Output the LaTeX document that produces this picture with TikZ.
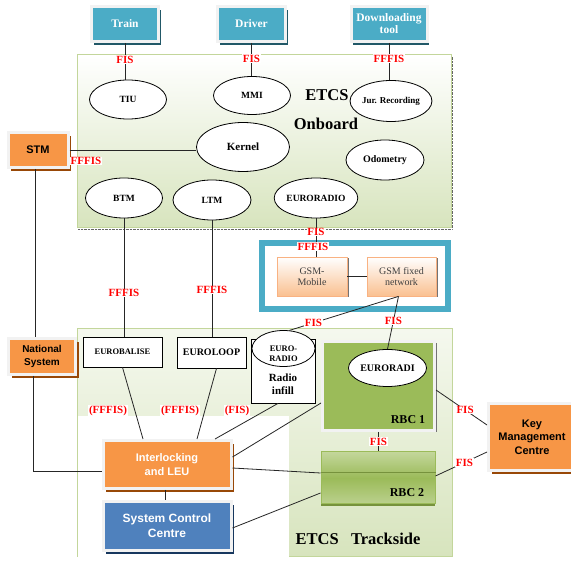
\documentclass[tikz,border=0pt]{standalone}
\usepackage{fontspec}
\setmainfont{Liberation Serif}
\setsansfont{Liberation Sans}
\usetikzlibrary{shapes.geometric,shadows}
\definecolor{tealc}{HTML}{4BACC6}
\definecolor{tealdark}{HTML}{215867}
\definecolor{framegray}{HTML}{F2F2F2}
\definecolor{orangec}{HTML}{F79646}
\definecolor{orangedark}{HTML}{984807}
\definecolor{bluec}{HTML}{4F81BD}
\definecolor{bluedark}{HTML}{17375E}
\definecolor{greenc}{HTML}{9BBB59}
\definecolor{greenlight}{HTML}{D7E4BD}
\definecolor{greenline}{HTML}{C3D69B}
\definecolor{greendark}{HTML}{76923C}
\definecolor{peach}{HTML}{FAC090}
\definecolor{peachline}{HTML}{F9B282}
\definecolor{gsmtext}{HTML}{404040}

\begin{document}
\begin{tikzpicture}[x=1pt,y=-1pt,
			unit/.style={draw, ellipse, fill=white, line width=0.8pt, inner sep=0pt, align=center, font=\bfseries\fontsize{9.5}{10}\selectfont},
			tealbox/.style={draw=framegray, fill=tealc, line width=3pt, inner sep=0pt, align=center, text=white, font=\bfseries\fontsize{11.5}{12}\selectfont, drop shadow={shadow xshift=2pt, shadow yshift=-4pt, fill=tealdark, opacity=1}},
			orangebox/.style={draw=framegray, fill=orangec, line width=3pt, inner sep=0pt, align=center, font=\sffamily\bfseries\fontsize{11}{13.5}\selectfont, drop shadow={shadow xshift=3pt, shadow yshift=-4pt, fill=orangedark, opacity=1}},
			bluebox/.style={draw=framegray, fill=bluec, line width=3pt, inner sep=0pt, align=center, text=white, font=\sffamily\bfseries\fontsize{12}{15}\selectfont, drop shadow={shadow xshift=3pt, shadow yshift=-4pt, fill=bluedark, opacity=1}},
			plainbox/.style={draw, fill=white, line width=0.8pt, inner sep=0pt, align=center, font=\bfseries\fontsize{10}{10}\selectfont},
			peachbox/.style={draw=peachline, top color=white, bottom color=peach, line width=0.8pt, inner sep=0pt, align=center, text=gsmtext, font=\fontsize{10}{11}\selectfont, drop shadow={shadow xshift=1.5pt, shadow yshift=-1.5pt, fill=black!55, opacity=1}},
			rbcone/.style={draw=framegray, fill=greenc, line width=3pt, inner sep=0pt, drop shadow={shadow xshift=2pt, shadow yshift=-2pt, fill=black!55, opacity=1}},
			rbctwo/.style={draw=greenc, top color=greenline, bottom color=greenline!80!greenc, middle color=greenc, line width=1pt, inner sep=0pt, drop shadow={shadow xshift=0pt, shadow yshift=-2pt, fill=greendark, opacity=1}},
			bigtitle/.style={font=\bfseries\fontsize{16.5}{18}\selectfont, inner sep=0pt},
			rbclabel/.style={font=\bfseries\fontsize{12}{12}\selectfont, inner sep=0pt},
			fis/.style={fill=white, text=red, inner sep=0.6pt, font=\bfseries\fontsize{11}{11}\selectfont},
			link/.style={line width=0.8pt, black!85}
		]
		\useasboundingbox (0,0) rectangle (571,561);

		\shadedraw[top color=white, bottom color=greenlight, draw=greenline, line width=1pt] (77,55) rectangle (451,228);
		\draw[densely dotted, black!60] (78,229) -- (452,229) -- (452,56);
		\shadedraw[top color=greenlight!25!white, bottom color=greenlight, draw=greenline, line width=1pt] (77,329) rectangle (452,557);
		\fill[white] (77.6,416) rectangle (289,561);
		\draw[tealc, line width=6pt, fill=white] (262,243) rectangle (448,309);

		\node[tealbox, minimum width=67pt, minimum height=35pt] (train) at (125,24) {Train};
		\node[tealbox, minimum width=68pt, minimum height=35pt] (driver) at (251.5,24) {Driver};
		\node[tealbox, minimum width=76pt, minimum height=35pt] (dltool) at (389,24) {Downloading\\tool};

		\node[unit, minimum width=77pt, minimum height=39pt] (tiu) at (128,99.5) {TIU};
		\node[unit, minimum width=77pt, minimum height=38pt] (mmi) at (252,95.5) {MMI};
		\node[unit, minimum width=78pt, minimum height=41pt, font=\bfseries\fontsize{9}{10}\selectfont] (jur) at (391,101) {Jur. Recording};
		\node[unit, minimum width=93pt, minimum height=49pt, font=\bfseries\fontsize{11}{12}\selectfont] (kernel) at (243,147) {Kernel};
		\node[unit, minimum width=78pt, minimum height=40pt, font=\bfseries\fontsize{10}{10}\selectfont] (odo) at (385,160) {Odometry};
		\node[unit, minimum width=77pt, minimum height=40pt] (btm) at (124,198) {BTM};
		\node[unit, minimum width=78pt, minimum height=40pt] (ltm) at (212,200) {LTM};
		\node[unit, minimum width=78pt, minimum height=40pt] (euroob) at (316,198) {EURORADIO};
		\node[bigtitle] (etcs) at (327,95) {ETCS};
		\node[bigtitle] (onboard) at (326,124) {Onboard};

		\node[orangebox, minimum width=60pt, minimum height=35pt] (stm) at (38,150) {STM};
		\node[orangebox, minimum width=67pt, minimum height=36pt, font=\sffamily\bfseries\fontsize{10}{13}\selectfont] (nat) at (42,356.5) {National\\System};

		\node[peachbox, minimum width=70pt, minimum height=39pt] (gsmmob) at (312,276.5) {GSM-\\Mobile};
		\node[peachbox, minimum width=69pt, minimum height=39pt] (gsmfix) at (401.5,276.5) {GSM fixed\\network};

		\node[plainbox, minimum width=79pt, minimum height=30pt, font=\bfseries\fontsize{8.5}{9}\selectfont] (eurobal) at (122.5,352) {EUROBALISE};
		\node[plainbox, minimum width=69pt, minimum height=31pt] (euroloop) at (211.5,352.5) {EUROLOOP};
		\node[plainbox, minimum width=64pt, minimum height=64pt] (infill) at (283,371) {};
		\node[unit, minimum width=63pt, minimum height=36pt] (eurorad) at (283.5,348.5) {};
		\node[font=\bfseries\fontsize{8.5}{10}\selectfont, align=center, inner sep=0pt] (euroradtxt) at (283.5,354) {EURO-\\RADIO};
		\node[font=\bfseries\fontsize{11}{13}\selectfont, align=center, inner sep=0pt] (infilltxt) at (283,384) {Radio\\infill};

		\node[rbcone, minimum width=112pt, minimum height=89pt] (rbc1) at (378.5,386) {};
		\node[unit, minimum width=78pt, minimum height=37pt, font=\bfseries\fontsize{10}{10}\selectfont] (rbceuro) at (387.5,368) {EURORADI};
		\node[rbclabel] (rbconelbl) at (408,420) {RBC 1};
		\node[rbctwo, minimum width=114pt, minimum height=52pt] (rbc2) at (378,478) {};
		\draw[greendark] ([yshift=6pt]rbc2.west) -- ([yshift=6pt]rbc2.east);
		\node[rbclabel] (rbctwolbl) at (407,493) {RBC 2};

		\node[orangebox, minimum width=128pt, minimum height=48pt, text=white] (ilock) at (167,464.5) {Interlocking\\and LEU};
		\node[bluebox, minimum width=128pt, minimum height=49pt] (scc) at (167,526) {System Control\\Centre};
		\node[orangebox, minimum width=87pt, minimum height=67pt] (key) at (532,437) {Key\\Management\\Centre};
		\node[bigtitle] (trackside) at (358,539) {ETCS\ \ \ Trackside};

		\draw[link] (train.south) -- (train.south |- tiu.north) node[fis, pos=0.45] {FIS};
		\draw[link] (driver.south) -- (driver.south |- mmi.north) node[fis, pos=0.47] {FIS};
		\draw[link] (dltool.south) -- (dltool.south |- jur.north) node[fis, pos=0.42] {FFFIS};
		\draw[link] (stm.east) -- (stm.east -| kernel.west) node[fis, pos=0.13, yshift=-11pt] {FFFIS};
		\draw[link] ([xshift=-3pt]stm.south) -- ([xshift=-3pt]stm.south |- nat.north);
		\draw[link] ([xshift=-9pt]nat.south) |- ([yshift=-6.5pt]ilock.west);
		\draw[link] (btm.south) -- (btm.south |- eurobal.north) node[fis, pos=0.63] {FFFIS};
		\draw[link] (ltm.south) -- (ltm.south |- euroloop.north) node[fis, pos=0.6] {FFFIS};
		\draw[link] (euroob.south) -- (euroob.south |- gsmmob.north)
			node[fis, pos=0.36] {FIS} node[fis, pos=0.74, xshift=-3pt] {FFFIS};
		\draw[link] (gsmmob.east) -- (gsmfix.west);
		\draw[link] ([xshift=-3pt]gsmfix.south) -- (eurorad.72) node[fis, pos=0.78] {FIS};
		\draw[link] ([xshift=-3pt]gsmfix.south) -- (rbceuro.north) node[fis, pos=0.47] {FIS};

		\draw[link] (eurobal.south) -- ([xshift=-24pt]ilock.north);
		\draw[link] ([xshift=5pt]euroloop.south) -- ([xshift=30pt]ilock.north);
		\draw[link] ([xshift=-5pt]infill.south) -- ([xshift=48pt]ilock.north);
		\draw[link] ([yshift=-17pt]rbc1.west) -- ([yshift=7.5pt]ilock.east);
		\draw[link] ([yshift=-3.5pt]ilock.east) -- ([yshift=5pt]rbc2.west);
		\draw[link] ([yshift=-2pt]scc.east) -- ([yshift=-15pt]rbc2.west);
		\draw[link] ([xshift=-2pt]ilock.south) -- ([xshift=-2pt]scc.north);
		\draw[link] (rbc1.south) -- (rbc1.south |- rbc2.north) node[fis, pos=0.5] {FIS};
		\draw[link] ([yshift=-4pt]rbc1.east) -- ([yshift=12pt]key.west) node[fis, pos=0.57] {FIS};
		\draw[link] ([yshift=2pt]rbc2.east) -- ([yshift=-15pt]key.west) node[fis, pos=0.56] {FIS};

		\node[fis] (lblbal) at (108,411) {(FFFIS)};
		\node[fis] (lblloop) at (180,411) {(FFFIS)};
		\node[fis] (lblinfill) at (237,411) {(FIS)};
	\end{tikzpicture}
\end{document}
